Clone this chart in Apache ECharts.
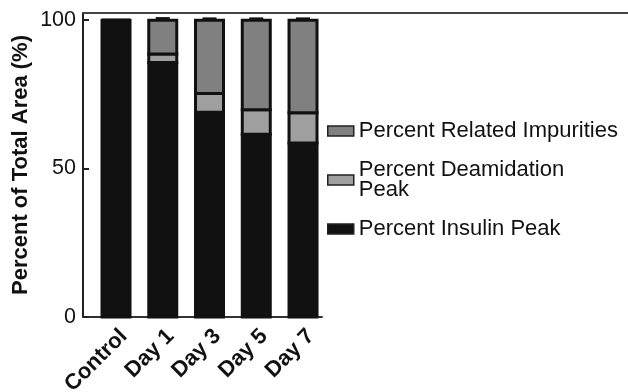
<!DOCTYPE html>
<html><head><meta charset="utf-8">
<script src="https://cdn.jsdelivr.net/npm/echarts@6/dist/echarts.min.js"></script>
<style>html,body{margin:0;padding:0;background:#fff}#c{width:628px;height:392px}</style>
</head><body><div id="c"></div>
<script>
const categories = ['Control', 'Day 1', 'Day 3', 'Day 5', 'Day 7'];
const insulin = [100, 85.7, 69.0, 61.6, 58.6];
const deamidation = [0, 2.9, 6.3, 8.2, 10.2];
const impurities = [0, 11.4, 24.7, 30.2, 31.2];
const errors = [0, 0.6, 0.5, 0.5, 0.5];
const yTicks = [0, 50, 100];

const FONT = 'Liberation Sans, Arial, sans-serif';
const chart = echarts.init(document.getElementById('c'), null, {renderer: 'canvas'});

// stacked segments: [index, base, value]
function stacked(values, below) {
  return values.map((v, i) => [i, below.reduce((s, arr) => s + arr[i], 0), v]);
}
function barRender(fill) {
  return (params, api) => {
    const i = api.value(0), b = api.value(1), v = api.value(2);
    const p0 = api.coord([i, b]);
    const p1 = api.coord([i, b + v]);
    const w = 28;
    return {
      type: 'rect',
      shape: {x: p0[0] - w / 2, y: p1[1], width: w, height: p0[1] - p1[1]},
      style: {fill: fill, stroke: '#111', lineWidth: 3}
    };
  };
}
const legendStyle = c => ({color: c, borderColor: '#222', borderWidth: 1.5});

chart.setOption({
  animation: false,
  textStyle: {fontFamily: FONT, color: '#111'},
  grid: {left: 83, right: 306, top: 13, bottom: 75, outerBoundsMode: 'none', containLabel: false},
  xAxis: {
    type: 'value', min: -0.706, max: 4.406,
    splitLine: {show: false},
    axisLine: {show: true, onZero: false, lineStyle: {color: '#333', width: 2}},
    axisTick: {show: false},
    axisLabel: {
      customValues: [0, 1, 2, 3, 4],
      formatter: v => categories[Math.round(v)] || '',
      rotate: 45, fontSize: 22, fontWeight: 'bold', color: '#111',
      fontFamily: FONT, margin: 8, verticalAlign: 'top'
    }
  },
  yAxis: {
    type: 'value', min: 0, max: 102.4,
    name: 'Percent of Total Area (%)', nameLocation: 'middle', nameGap: 51,
    nameTextStyle: {fontSize: 22, fontWeight: 'bold', color: '#111', fontFamily: FONT},
    splitLine: {show: false},
    axisLine: {show: true, onZero: false, lineStyle: {color: '#222', width: 2}},
    axisTick: {show: true, inside: true, length: 6, customValues: yTicks, lineStyle: {color: '#222', width: 2}},
    axisLabel: {customValues: yTicks, fontSize: 21.5, color: '#111', fontFamily: FONT, margin: 7}
  },
  legend: {
    orient: 'vertical', left: 327, top: 120, itemGap: 17, padding: 0,
    icon: 'rect', itemWidth: 26, itemHeight: 10,
    textStyle: {fontSize: 22, lineHeight: 20, color: '#111', fontFamily: FONT},
    data: [
      {name: 'Percent Related Impurities', itemStyle: legendStyle('#808080')},
      {name: 'Percent Deamidation\nPeak', itemStyle: legendStyle('#9f9f9f')},
      {name: 'Percent Insulin Peak', itemStyle: legendStyle('#111')}
    ]
  },
  graphic: [{
    type: 'line', shape: {x1: 83, y1: 13, x2: 628, y2: 13},
    style: {stroke: '#444', lineWidth: 2}, z: 10
  }],
  series: [
    {name: 'Percent Insulin Peak', type: 'custom', itemStyle: {color: '#111'},
     renderItem: barRender('#111'), encode: {x: 0, y: [1, 2]},
     data: stacked(insulin, [])},
    {name: 'Percent Deamidation\nPeak', type: 'custom', itemStyle: {color: '#9f9f9f'},
     renderItem: barRender('#9f9f9f'), encode: {x: 0, y: [1, 2]},
     data: stacked(deamidation, [insulin])},
    {name: 'Percent Related Impurities', type: 'custom', itemStyle: {color: '#808080'},
     renderItem: barRender('#808080'), encode: {x: 0, y: [1, 2]},
     data: stacked(impurities, [insulin, deamidation])},
    {type: 'custom', z: 5, silent: true,
     data: errors.map((e, i) => [i, insulin[i] + deamidation[i] + impurities[i], e]),
     renderItem: (params, api) => {
       const e = api.value(2);
       if (!e) return null;
       const top = api.coord([api.value(0), api.value(1) + e]);
       const base = api.coord([api.value(0), api.value(1)]);
       return {type: 'group', children: [
         {type: 'line', shape: {x1: top[0], y1: top[1], x2: base[0], y2: base[1]}, style: {stroke: '#111', lineWidth: 2}},
         {type: 'line', shape: {x1: top[0] - 7, y1: top[1], x2: top[0] + 7, y2: top[1]}, style: {stroke: '#111', lineWidth: 2.5}}
       ]};
     }}
  ]
});
</script></body></html>
